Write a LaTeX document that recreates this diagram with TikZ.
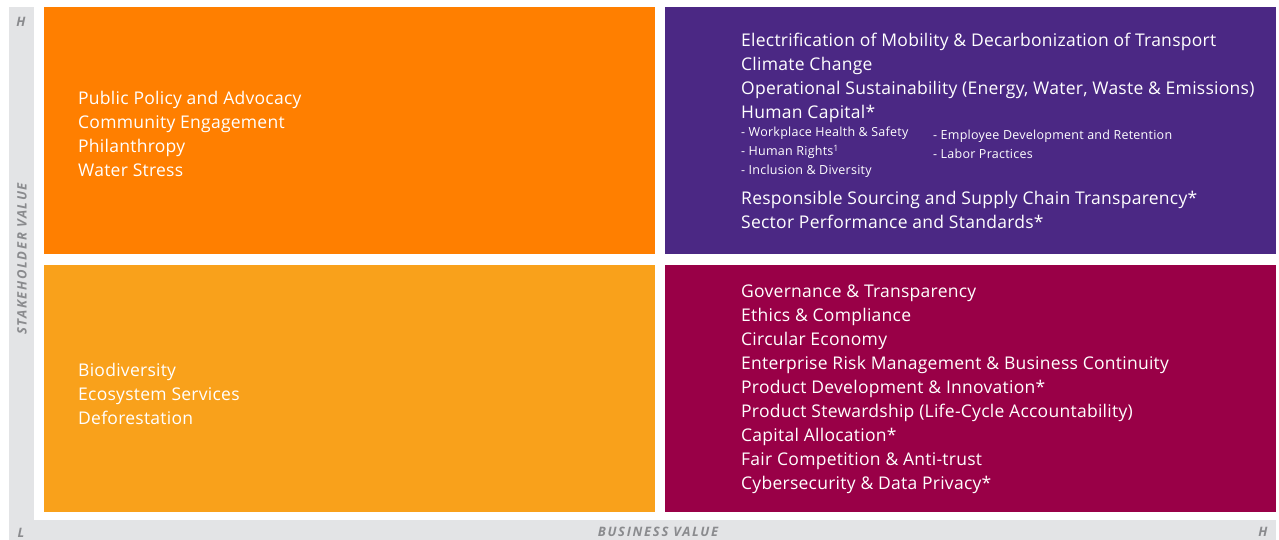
\documentclass[tikz,border=0pt]{standalone}
\usepackage{fontspec}
\setmainfont{Open Sans}
\usepackage{tikz}
\usetikzlibrary{positioning}
\definecolor{hiorange}{HTML}{FF7F00}
\definecolor{loorange}{HTML}{F9A11B}
\definecolor{hipurple}{HTML}{4B2884}
\definecolor{lomaroon}{HTML}{990047}
\definecolor{axisgrey}{HTML}{E3E4E6}
\definecolor{axistext}{HTML}{8A8B8E}
\tikzstyle{quad} = [rectangle, minimum width=611pt, minimum height=247pt, inner sep=0pt, anchor=north west]
\tikzstyle{topic} = [anchor=north west, align=left, text=white, inner sep=0pt, font=\fontsize{17.5}{24}\selectfont\addfontfeature{LetterSpace=1.5}]
\tikzstyle{subtopic} = [anchor=north west, align=left, text=white, inner sep=0pt, font=\fontsize{12.5}{19}\selectfont\addfontfeature{LetterSpace=2}]
\tikzstyle{axislabel} = [text=axistext, inner sep=0pt, font=\fontsize{13}{15}\selectfont\bfseries\itshape\addfontfeature{LetterSpace=13}]

\begin{document}
\begin{tikzpicture}[x=1pt,y=-1pt]
        \useasboundingbox (0,0) rectangle (1279,540);
        % axis strips
        \fill [axisgrey] (9,7) rectangle (34,540);
        \fill [axisgrey] (9,520) rectangle (1276,540);

        % quadrants
        \node (ql) [quad, fill=hiorange] at (44,7) {};
        \node (qr) [quad, fill=hipurple] at (665,7) {};
        \node (bl) [quad, fill=loorange] at (44,265) {};
        \node (br) [quad, fill=lomaroon] at (665,265) {};

        \node (qltext) [topic] at (78,91)
        {Public Policy and Advocacy\\Community Engagement\\Philanthropy\\Water Stress};
        \node (qrtext) [topic] at (741,33)
        {Electrification of Mobility \& Decarbonization of Transport\\Climate Change\\
         Operational Sustainability (Energy, Water, Waste \& Emissions)\\Human Capital*};
        \node (hcleft) [subtopic] at (741,127)
        {- Workplace Health \& Safety\\- Human Rights\textsuperscript{1}\\- Inclusion \& Diversity};
        \node (hcright) [subtopic] at (933,130)
        {- Employee Development and Retention\\- Labor Practices};
        \node (qrtext2) [topic] at (741,191.5)
        {Responsible Sourcing and Supply Chain Transparency*\\Sector Performance and Standards*};
        \node (bltext) [topic] at (78,363.5)
        {Biodiversity\\Ecosystem Services\\Deforestation};
        \node (brtext) [topic] at (741,284.5)
        {Governance \& Transparency\\Ethics \& Compliance\\Circular Economy\\
         Enterprise Risk Management \& Business Continuity\\Product Development \& Innovation*\\
         Product Stewardship (Life-Cycle Accountability)\\Capital Allocation*\\
         Fair Competition \& Anti-trust\\Cybersecurity \& Data Privacy*};

        % axis labels
        \node (yhigh) [axislabel] at (21,22) {H};
        \node (ylow) [axislabel] at (21,533) {L};
        \node (ytitle) [axislabel, rotate=90] at (22,259) {STAKEHOLDER VALUE};
        \node (xtitle) [axislabel] at (658,532) {BUSINESS VALUE};
        \node (xhigh) [axislabel] at (1263,532) {H};
    \end{tikzpicture}
\end{document}
